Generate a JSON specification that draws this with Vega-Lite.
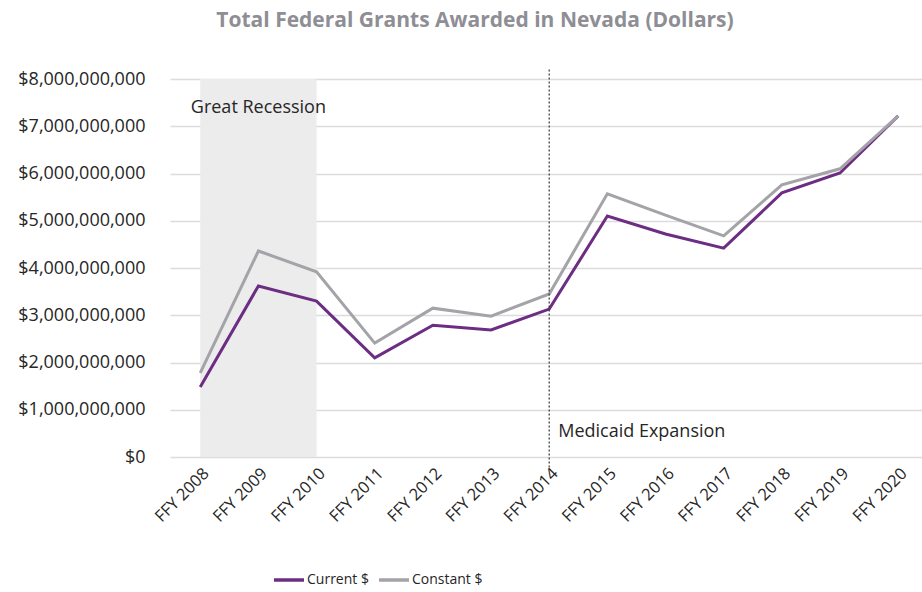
{
  "$schema": "https://vega.github.io/schema/vega-lite/v6.json",
  "width": 752,
  "height": 378,
  "autosize": "none",
  "padding": {"left": 170, "right": 0, "top": 79, "bottom": 135},
  "background": "white",
  "config": {
    "font": "Open Sans",
    "view": {"stroke": null}
  },
  "title": {
    "text": "Total Federal Grants Awarded in Nevada (Dollars)",
    "frame": "group",
    "anchor": "middle",
    "dx": -71,
    "fontSize": 21,
    "fontWeight": "bold",
    "color": "#8e8e94",
    "font": "Open Sans",
    "offset": 38
  },
  "datasets": {
    "grants": [
      {"year": 2008, "series": "Current $", "value": 1480000000},
      {"year": 2009, "series": "Current $", "value": 3620000000},
      {"year": 2010, "series": "Current $", "value": 3300000000},
      {"year": 2011, "series": "Current $", "value": 2100000000},
      {"year": 2012, "series": "Current $", "value": 2790000000},
      {"year": 2013, "series": "Current $", "value": 2690000000},
      {"year": 2014, "series": "Current $", "value": 3130000000},
      {"year": 2015, "series": "Current $", "value": 5100000000},
      {"year": 2016, "series": "Current $", "value": 4720000000},
      {"year": 2017, "series": "Current $", "value": 4420000000},
      {"year": 2018, "series": "Current $", "value": 5590000000},
      {"year": 2019, "series": "Current $", "value": 6010000000},
      {"year": 2020, "series": "Current $", "value": 7220000000},
      {"year": 2008, "series": "Constant $", "value": 1780000000},
      {"year": 2009, "series": "Constant $", "value": 4360000000},
      {"year": 2010, "series": "Constant $", "value": 3920000000},
      {"year": 2011, "series": "Constant $", "value": 2410000000},
      {"year": 2012, "series": "Constant $", "value": 3150000000},
      {"year": 2013, "series": "Constant $", "value": 2980000000},
      {"year": 2014, "series": "Constant $", "value": 3450000000},
      {"year": 2015, "series": "Constant $", "value": 5570000000},
      {"year": 2016, "series": "Constant $", "value": 5120000000},
      {"year": 2017, "series": "Constant $", "value": 4680000000},
      {"year": 2018, "series": "Constant $", "value": 5760000000},
      {"year": 2019, "series": "Constant $", "value": 6100000000},
      {"year": 2020, "series": "Constant $", "value": 7220000000}
    ],
    "band": [{"start": 2008, "end": 2010, "low": 0, "high": 8000000000}],
    "marker": [{"year": 2014, "low": -220000000, "high": 8200000000}],
    "recession": [{"year": 2009, "value": 7390000000, "label": "Great Recession"}],
    "medicaid": [{"year": 2014, "value": 530000000, "label": "Medicaid Expansion"}]
  },
  "encoding": {},
  "layer": [
    {
      "data": {"name": "band"},
      "mark": {"type": "rect", "color": "#ececec"},
      "encoding": {
        "x": {
          "field": "start",
          "type": "quantitative",
          "title": null,
          "scale": {"domain": [2007.48, 2020.41], "nice": false, "zero": false},
          "axis": {
            "values": [2008, 2009, 2010, 2011, 2012, 2013, 2014, 2015, 2016, 2017, 2018, 2019, 2020],
            "labelExpr": "'FFY ' + datum.value",
            "labelAngle": -45,
            "labelFontSize": 16.5,
            "labelOverlap": false,
            "labelColor": "#262626",
            "labelFont": "Open Sans",
            "grid": false,
            "domain": false,
            "ticks": false,
            "labelPadding": 8
          }
        },
        "x2": {"field": "end"},
        "y": {
          "field": "low",
          "type": "quantitative",
          "title": null,
          "scale": {"domain": [0, 8000000000], "nice": false},
          "axis": {
            "values": [0, 1000000000, 2000000000, 3000000000, 4000000000, 5000000000, 6000000000, 7000000000, 8000000000],
            "format": "$,.0f",
            "labelFontSize": 18,
            "labelColor": "#262626",
            "labelFont": "Open Sans",
            "grid": true,
            "gridColor": "#dcdcdc",
            "gridWidth": 1.5,
            "domain": false,
            "ticks": false,
            "labelPadding": 25
          }
        },
        "y2": {"field": "high"}
      }
    },
    {
      "data": {"name": "grants"},
      "mark": {"type": "line", "strokeWidth": 3},
      "encoding": {
        "x": {"field": "year", "type": "quantitative", "title": null},
        "y": {"field": "value", "type": "quantitative", "title": null},
        "color": {
          "field": "series",
          "type": "nominal",
          "scale": {"domain": ["Current $", "Constant $"], "range": ["#6c2d83", "#a3a3a8"]},
          "legend": {
            "title": null,
            "orient": "none",
            "legendX": 102,
            "legendY": 484,
            "direction": "horizontal",
            "symbolType": "stroke",
            "symbolStrokeWidth": 3.5,
            "symbolSize": 900,
            "symbolOffset": 0,
            "labelOffset": 1,
            "labelFontSize": 14,
            "labelColor": "#262626",
            "labelFont": "Open Sans",
            "columnPadding": 3
          }
        }
      }
    },
    {
      "data": {"name": "marker"},
      "mark": {"type": "rule", "strokeDash": [2, 2], "color": "#333333", "strokeWidth": 1.2},
      "encoding": {
        "x": {"field": "year", "type": "quantitative", "title": null},
        "y": {"field": "low", "type": "quantitative", "title": null},
        "y2": {"field": "high"}
      }
    },
    {
      "data": {"name": "recession"},
      "mark": {"type": "text", "fontSize": 18, "color": "#262626", "font": "Open Sans", "align": "center", "baseline": "middle"},
      "encoding": {
        "x": {"field": "year", "type": "quantitative", "title": null},
        "y": {"field": "value", "type": "quantitative", "title": null},
        "text": {"field": "label"}
      }
    },
    {
      "data": {"name": "medicaid"},
      "mark": {"type": "text", "fontSize": 18, "color": "#262626", "font": "Open Sans", "align": "left", "baseline": "middle", "dx": 9},
      "encoding": {
        "x": {"field": "year", "type": "quantitative", "title": null},
        "y": {"field": "value", "type": "quantitative", "title": null},
        "text": {"field": "label"}
      }
    }
  ]
}
